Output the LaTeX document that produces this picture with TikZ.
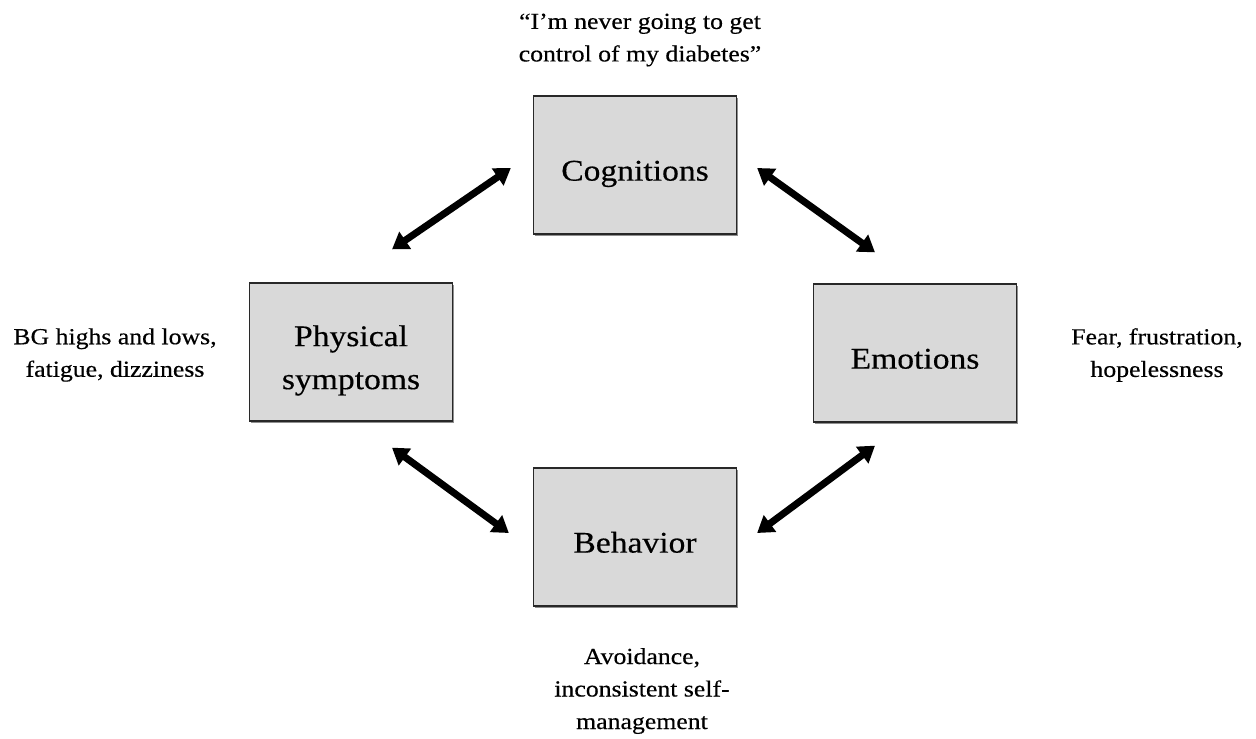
\documentclass[tikz,border=0pt]{standalone}
\usepackage{fontspec}
\setmainfont[FakeStretch=1.12,FakeBold=0.4]{Liberation Serif}
\usetikzlibrary{arrows.meta,shadows}
\definecolor{boxfill}{RGB}{217,217,217}
\definecolor{boxline}{RGB}{40,40,40}
\newcommand{\bxtext}[1]{\raisebox{-7pt}[\height][\depth]{\begin{tabular}{@{}c@{}}#1\end{tabular}}}
\tikzset{
  box/.style={draw=boxline, line width=1.3pt, fill=boxfill, minimum width=203pt, minimum height=138pt,
    align=center, font=\fontsize{30}{43}\selectfont, inner sep=0pt,
    drop shadow={shadow xshift=1.5pt, shadow yshift=-1.5pt, fill=black!55, opacity=0.8}},
  lbl/.style={align=center, font=\fontsize{23}{32.5}\selectfont, inner sep=0pt},
  link/.style={line width=7pt, {Triangle[length=16pt,width=20pt]}-{Triangle[length=16pt,width=20pt]}}
}
\begin{document}
\begin{tikzpicture}[x=1pt,y=-1pt]
\useasboundingbox[fill=white] (0,0) rectangle (1256,739);
\node[box] (cog) at (635,165) {\bxtext{Cognitions}};
\node[box] (phys) at (351,352) {\bxtext{Physical\\symptoms}};
\node[box] (emo) at (915,353) {\bxtext{Emotions}};
\node[box] (beh) at (635,537) {\bxtext{Behavior}};
\node[lbl] (tq) at (640,40) {“I’m never going to get\\control of my diabetes”};
\node[lbl] (lq) at (115,355) {BG highs and lows,\\fatigue, dizziness};
\node[lbl] (rq) at (1157,355) {Fear, frustration,\\hopelessness};
\node[lbl] (bq) at (642,691) {Avoidance,\\inconsistent self-\\management};
\draw[link] ([shift={(41,-33)}]phys.north) -- ([shift={(-22,3)}]cog.west);
\draw[link] ([shift={(20,3)}]cog.east) -- ([shift={(-40,-31)}]emo.north);
\draw[link] ([shift={(41,26)}]phys.south) -- ([shift={(-24,-4)}]beh.west);
\draw[link] ([shift={(-40,23)}]emo.south) -- ([shift={(20,-4)}]beh.east);
\end{tikzpicture}
\end{document}
